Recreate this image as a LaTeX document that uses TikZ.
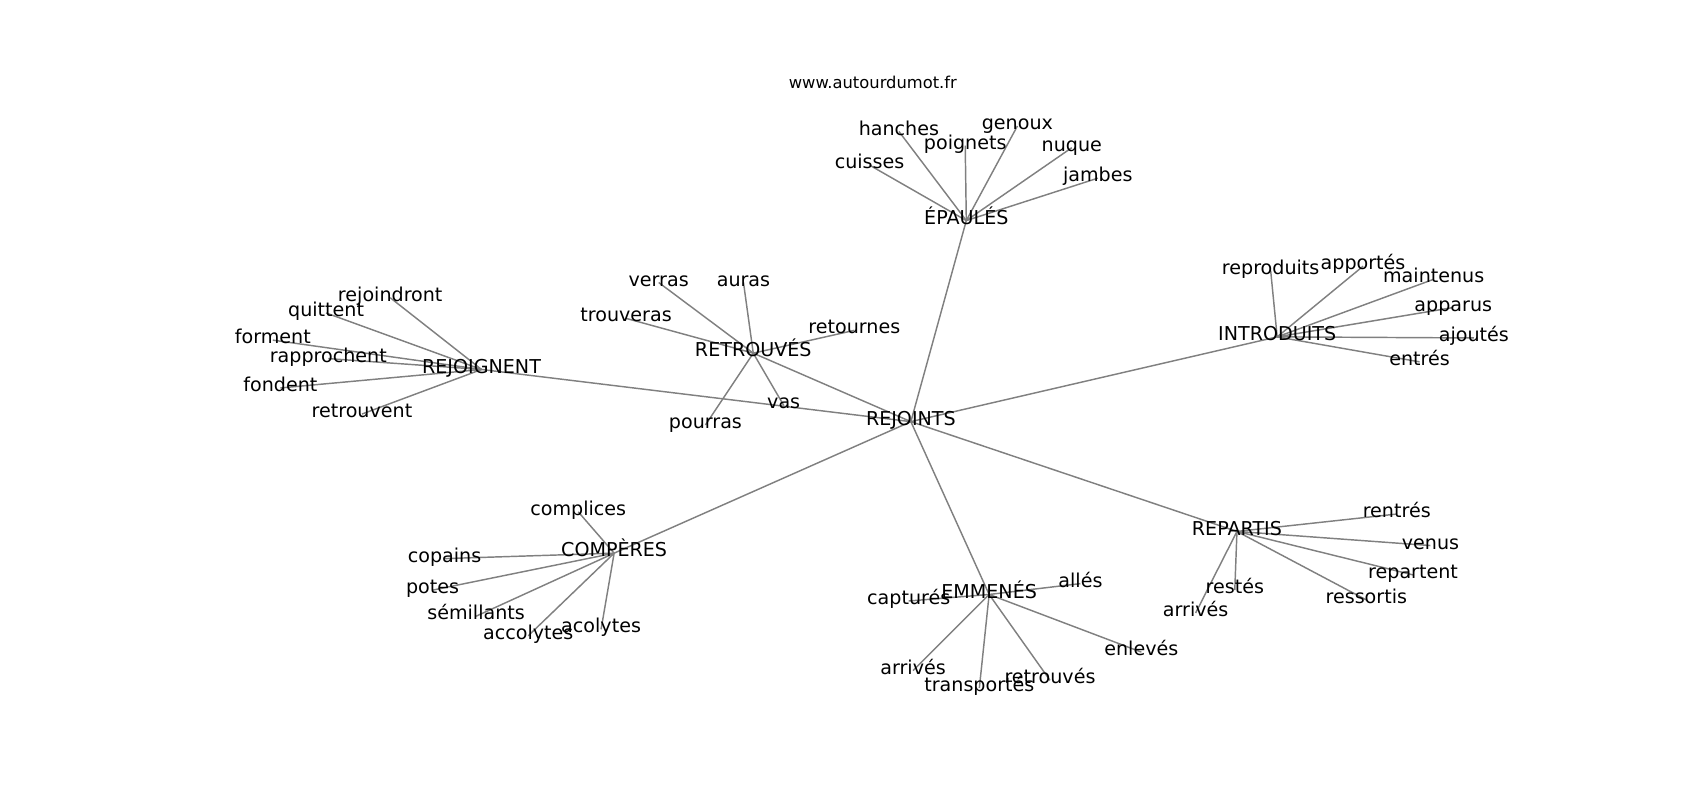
\documentclass[tikz,border=0pt]{standalone}
\usepackage{fontspec}
\setmainfont{DejaVu Sans}
\usetikzlibrary{backgrounds}
\tikzset{
  lbl/.style={inner sep=0pt, anchor=center, yshift=-1.5pt, text height=0.76em, text depth=0.24em, font=\fontsize{13.8pt}{16pt}\selectfont, text=black},
  ttl/.style={inner sep=0pt, anchor=center, yshift=-1.5pt, text height=0.76em, text depth=0.24em, font=\fontsize{11.8pt}{14pt}\selectfont, text=black},
  edge/.style={draw=black!50, line width=1.05pt}
}
\begin{document}
\begin{tikzpicture}[x=0.010870in, y=-0.010870in]
\useasboundingbox (0,0) rectangle (1564,736);
% title
\node[ttl] (title) at (803,76) {www.autourdumot.fr};
% hub
\node[lbl] (rejoints) at (838,386) {REJOINTS};
% EPAULES
\node[lbl] (epaules) at (889,201) {ÉPAULÉS};
\node[lbl] (cuisses) at (800,150) {cuisses};
\node[lbl] (hanches) at (827,119) {hanches};
\node[lbl] (poignets) at (888,132) {poignets};
\node[lbl] (genoux) at (936,114) {genoux};
\node[lbl] (nuque) at (986,134) {nuque};
\node[lbl] (jambes) at (1010,162) {jambes};
% RETROUVES
\node[lbl] (retrouves) at (693,323) {RETROUVÉS};
\node[lbl] (verras) at (606,258) {verras};
\node[lbl] (auras) at (684,258) {auras};
\node[lbl] (trouveras) at (576,291) {trouveras};
\node[lbl] (retournes) at (786,302) {retournes};
\node[lbl] (pourras) at (649,389) {pourras};
\node[lbl] (vas) at (721,371) {vas};
% REJOIGNENT
\node[lbl] (rejoignent) at (443,338) {REJOIGNENT};
\node[lbl] (rejoindront) at (359,272) {rejoindront};
\node[lbl] (quittent) at (300,286) {quittent};
\node[lbl] (forment) at (251,311) {forment};
\node[lbl] (rapprochent) at (302,328) {rapprochent};
\node[lbl] (fondent) at (258,355) {fondent};
\node[lbl] (retrouvent) at (333,379) {retrouvent};
% INTRODUITS
\node[lbl] (introduits) at (1175,308) {INTRODUITS};
\node[lbl] (reproduits) at (1169,247) {reproduits};
\node[lbl] (apportes) at (1254,243) {apportés};
\node[lbl] (maintenus) at (1319,255) {maintenus};
\node[lbl] (apparus) at (1337,281) {apparus};
\node[lbl] (ajoutes) at (1356,309) {ajoutés};
\node[lbl] (entres) at (1306,331) {entrés};
% COMPERES
\node[lbl] (comperes) at (565,507) {COMPÈRES};
\node[lbl] (complices) at (532,469) {complices};
\node[lbl] (copains) at (409,512) {copains};
\node[lbl] (potes) at (398,541) {potes};
\node[lbl] (semillants) at (438,565) {sémillants};
\node[lbl] (accolytes) at (486,583) {accolytes};
\node[lbl] (acolytes) at (553,577) {acolytes};
% EMMENES
\node[lbl] (emmenes) at (910,545) {EMMENÉS};
\node[lbl] (captures) at (836,551) {capturés};
\node[lbl] (alles) at (994,535) {allés};
\node[lbl] (emarrives) at (840,615) {arrivés};
\node[lbl] (transportes) at (901,631) {transportés};
\node[lbl] (emretrouves) at (966,624) {retrouvés};
\node[lbl] (enleves) at (1050,598) {enlevés};
% REPARTIS
\node[lbl] (repartis) at (1138,487) {REPARTIS};
\node[lbl] (rentres) at (1285,471) {rentrés};
\node[lbl] (venus) at (1316,500) {venus};
\node[lbl] (repartent) at (1300,527) {repartent};
\node[lbl] (ressortis) at (1257,550) {ressortis};
\node[lbl] (restes) at (1136,541) {restés};
\node[lbl] (reparrives) at (1100,562) {arrivés};
\begin{scope}[on background layer]
\foreach \a/\b in {rejoints/epaules, rejoints/retrouves, rejoints/rejoignent, rejoints/introduits, rejoints/comperes, rejoints/emmenes, rejoints/repartis,
  epaules/cuisses, epaules/hanches, epaules/poignets, epaules/genoux, epaules/nuque, epaules/jambes,
  retrouves/verras, retrouves/auras, retrouves/trouveras, retrouves/retournes, retrouves/pourras, retrouves/vas,
  rejoignent/rejoindront, rejoignent/quittent, rejoignent/forment, rejoignent/rapprochent, rejoignent/fondent, rejoignent/retrouvent,
  introduits/reproduits, introduits/apportes, introduits/maintenus, introduits/apparus, introduits/ajoutes, introduits/entres,
  comperes/complices, comperes/copains, comperes/potes, comperes/semillants, comperes/accolytes, comperes/acolytes,
  emmenes/captures, emmenes/alles, emmenes/emarrives, emmenes/transportes, emmenes/emretrouves, emmenes/enleves,
  repartis/rentres, repartis/venus, repartis/repartent, repartis/ressortis, repartis/restes, repartis/reparrives}
  \draw[edge] (\a.center) -- (\b.center);
\end{scope}
\end{tikzpicture}
\end{document}
